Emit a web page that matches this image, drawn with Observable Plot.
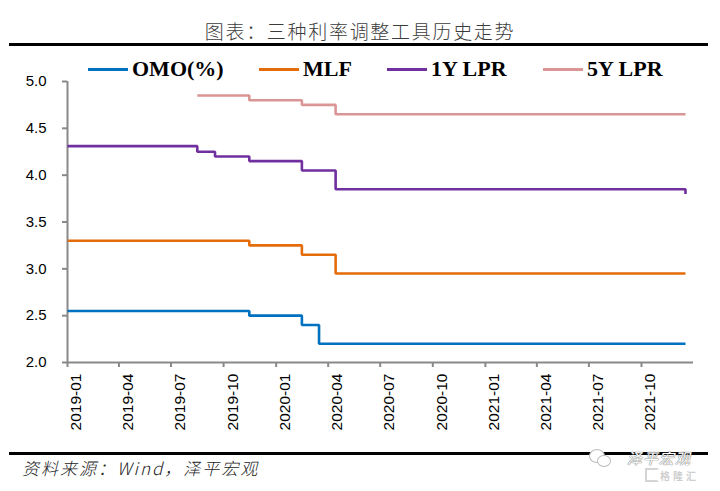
<!DOCTYPE html>
<html>
<head>
<meta charset="utf-8">
<script src="https://cdn.jsdelivr.net/npm/d3@7"></script>
<script src="https://cdn.jsdelivr.net/npm/@observablehq/plot@0.6"></script>
<style>
  html, body { margin: 0; padding: 0; background: #fff; }
  #wrap { position: relative; width: 720px; height: 491px; overflow: hidden; background: #fff; }
  #title { position: absolute; left: 0; width: 720px; top: 19px; text-align: center;
    font-family: "Noto Sans CJK SC", sans-serif; font-weight: 300; font-size: 19px;
    letter-spacing: 1.7px; color: #3c3c3c; line-height: 24px; }
  .rule { position: absolute; left: 9px; width: 699px; height: 3px; background: #000; }
  #legend { position: absolute; left: 0; top: 56px; width: 720px; height: 26px; z-index: 2; }
  .item { position: absolute; top: 0; height: 26px; display: flex; align-items: center; }
  .sw { width: 40px; height: 3px; margin-right: 4px; }
  .lab { font-family: "Liberation Serif", "Times New Roman", serif; font-weight: bold;
    font-size: 22px; color: #000; line-height: 26px; }
  #chart { position: absolute; left: 0; top: 70px; z-index: 1; }
  #chart svg text { font-family: "Liberation Sans", Arial, sans-serif; }
  #source { position: absolute; left: 22px; top: 457px; font-family: "Noto Sans CJK SC", sans-serif;
    font-style: italic; font-weight: 300; font-size: 17px; letter-spacing: 2px; color: #222; line-height: 22px; }
  #wm1 { position: absolute; left: 627px; top: 450px; font-family: "Noto Sans CJK SC", sans-serif;
    font-style: italic; font-size: 15px; color: #fff; line-height: 16px; height: 16px; z-index: 3;
    text-shadow: 0 0 1px #666, 0 0 1px #666; letter-spacing: 1px; }
  #wm2 { position: absolute; left: 660px; top: 471px; font-family: "Noto Sans CJK SC", sans-serif;
    font-size: 10px; color: #cfcfcf; line-height: 10px; height: 10px; z-index: 3; letter-spacing: 3px; font-weight: bold; }
  .gbox { position: absolute; left: 645px; top: 468px; width: 10px; height: 10px; border: 2px solid #d4d4d4; border-right-color: transparent; z-index: 3; }
  .bub { position: absolute; border: 1px solid #bbb; border-radius: 50%; background: #fff; z-index: 3; }
</style>
</head>
<body>
<div id="wrap">
  <div id="title">图表：三种利率调整工具历史走势</div>
  <div class="rule" style="top:43px"></div>
  <div id="legend"></div>
  <div id="chart"></div>
  <div class="rule" style="top:452px"></div>
  <div id="source">资料来源：Wind，泽平宏观</div>
  <div class="bub" style="left:589px;top:449px;width:14px;height:12px"></div>
  <div class="bub" style="left:597px;top:455px;width:12px;height:10px"></div>
  <div id="wm1">泽平宏观</div>
  <div class="gbox"></div>
  <div id="wm2">格隆汇</div>
</div>
<script>
// ---- data ----
const seriesNames = ["OMO(%)", "MLF", "1Y LPR", "5Y LPR"];
const seriesColors = ["#0070C0", "#E46C0A", "#7030A0", "#DA9694"];

const omoDates   = ["2019-01-01", "2019-11-15", "2020-02-15", "2020-03-16", "2021-12-17"];
const omoValues  = [2.55, 2.50, 2.40, 2.20, 2.20];

const mlfDates   = ["2019-01-01", "2019-11-15", "2020-02-15", "2020-04-14", "2021-12-17"];
const mlfValues  = [3.30, 3.25, 3.15, 2.95, 2.95];

const lpr1yDates  = ["2019-01-01", "2019-08-16", "2019-09-16", "2019-11-15", "2020-02-15", "2020-04-14", "2021-12-17"];
const lpr1yValues = [4.31, 4.25, 4.20, 4.15, 4.05, 3.85, 3.80];

const lpr5yDates  = ["2019-08-16", "2019-11-15", "2020-02-15", "2020-04-14", "2021-12-17"];
const lpr5yValues = [4.85, 4.80, 4.75, 4.65, 4.65];

const xTickLabels = ["2019-01", "2019-04", "2019-07", "2019-10", "2020-01", "2020-04",
                     "2020-07", "2020-10", "2021-01", "2021-04", "2021-07", "2021-10"];
const yTicks = [2.0, 2.5, 3.0, 3.5, 4.0, 4.5, 5.0];
const xDomain = ["2019-01-01", "2021-12-31"];

// ---- build table ----
const parseDay = d3.utcParse("%Y-%m-%d");
const parseMonth = d3.utcParse("%Y-%m");
const seriesData = [[omoDates, omoValues], [mlfDates, mlfValues], [lpr1yDates, lpr1yValues], [lpr5yDates, lpr5yValues]];
const rows = [];
seriesData.forEach(([ds, vs], i) => ds.forEach((d, j) => rows.push({series: seriesNames[i], date: parseDay(d), value: vs[j]})));
const xTicks = xTickLabels.map(parseMonth);

// ---- legend ----
const legendLeft = [88, 259, 387, 543];
const legend = document.getElementById("legend");
seriesNames.forEach((n, i) => {
  const it = document.createElement("div");
  it.className = "item";
  it.style.left = legendLeft[i] + "px";
  it.innerHTML = `<div class="sw" style="background:${seriesColors[i]}"></div><span class="lab">${n}</span>`;
  legend.appendChild(it);
});

// ---- chart ----
const axisColor = "#898989";
const chart = Plot.plot({
  width: 720,
  height: 380,
  marginTop: 11,
  marginBottom: 88,
  marginLeft: 67,
  marginRight: 27,
  style: {fontFamily: "Liberation Sans", fontSize: "15px", color: "#000", background: "transparent", overflow: "visible"},
  x: {type: "utc", domain: xDomain.map(parseDay)},
  y: {domain: [2, 5]},
  color: {domain: seriesNames, range: seriesColors},
  marks: [
    Plot.axisY({ticks: yTicks, tickSize: 5, tickPadding: 16, stroke: axisColor, strokeWidth: 2,
      fontSize: 15, tickFormat: d => d.toFixed(1), label: null}),
    Plot.axisX({ticks: xTicks, tickSize: 5, stroke: axisColor, strokeWidth: 2, fill: "none", label: null}),
    Plot.axisX({ticks: xTicks, tickSize: 5, tickPadding: 6, stroke: "none", tickRotate: -90, dx: 9,
      fontSize: 15.5, tickFormat: d3.utcFormat("%Y-%m"), label: null}),
    Plot.ruleY([2], {stroke: axisColor, strokeWidth: 2}),
    Plot.ruleX([parseDay(xDomain[0])], {stroke: axisColor, strokeWidth: 2}),
    Plot.line(rows, {x: "date", y: "value", z: "series", stroke: "series", strokeWidth: 2.6,
      curve: "step-after", strokeLinejoin: "miter", strokeLinecap: "butt"})
  ]
});
document.getElementById("chart").appendChild(chart);
</script>
</body>
</html>
